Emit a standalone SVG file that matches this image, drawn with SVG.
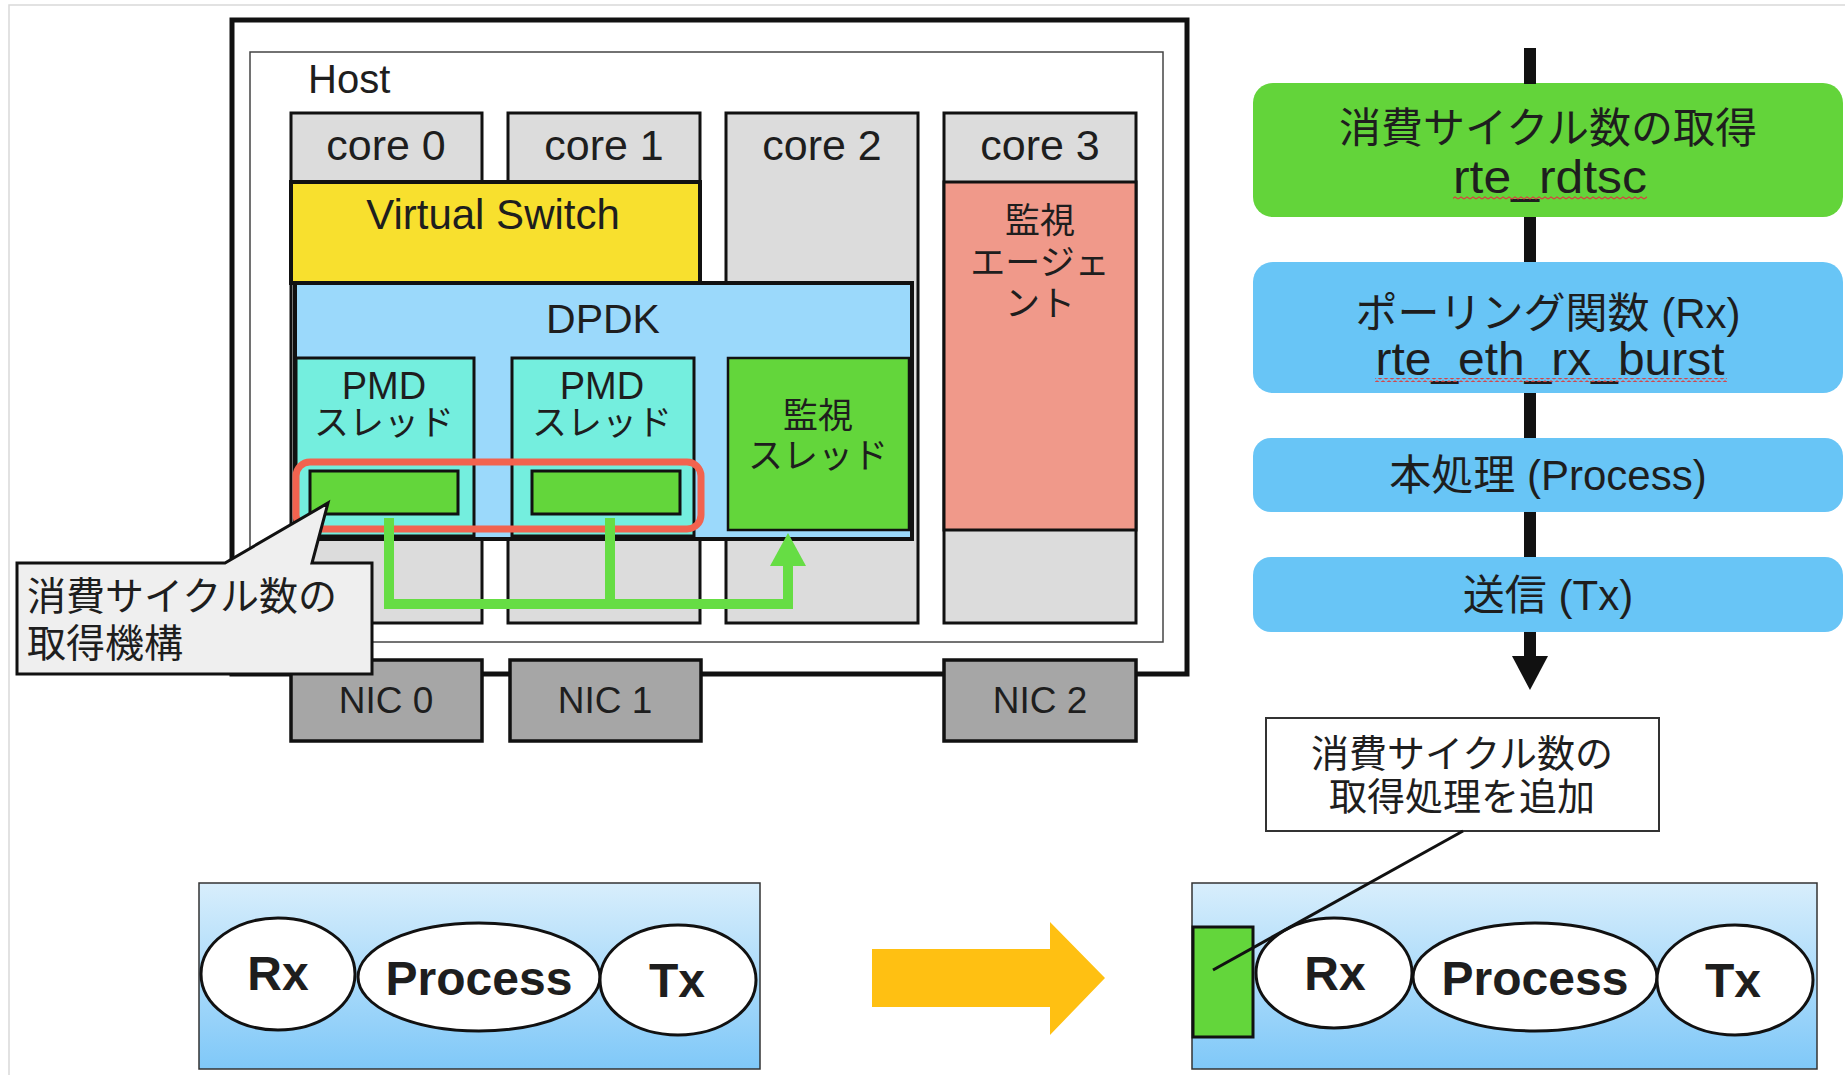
<svg xmlns="http://www.w3.org/2000/svg" width="1845" height="1075" viewBox="0 0 1845 1075">
<defs>
<style>
.t{font-family:"Liberation Sans","Noto Sans CJK JP",sans-serif;fill:#1e1e1e}
.m{text-anchor:middle}
.b{font-weight:bold}
.core{fill:#dcdcdc;stroke:#111;stroke-width:3}
.nic{fill:#a6a6a6;stroke:#111;stroke-width:3.5}
.ell{fill:#fff;stroke:#111;stroke-width:3}
.gbox{fill:#63d63b;stroke:#111}
.flowg{fill:#63d43a}
.flowb{fill:#68c5f6}
.panel{fill:url(#bg);stroke:#333;stroke-width:1.5}
.conn{fill:none;stroke:#111;stroke-width:12}
.green{fill:none;stroke:#66dd44;stroke-width:10}
</style>
<linearGradient id="bg" x1="0" y1="0" x2="0" y2="1">
<stop offset="0" stop-color="#d8eefc"/>
<stop offset="1" stop-color="#7fc8f8"/>
</linearGradient>
<pattern id="wavy" width="6" height="4" patternUnits="userSpaceOnUse">
<path d="M0 3 L3 1 L6 3" fill="none" stroke="#d94040" stroke-width="1.2"/>
</pattern>
<marker id="ahB" markerUnits="userSpaceOnUse" markerWidth="36" markerHeight="36" viewBox="0 0 34 36" refX="0" refY="18" orient="auto">
<path d="M0 0 L34 18 L0 36 Z" fill="#111"/>
</marker>
<marker id="ahG" markerUnits="userSpaceOnUse" markerWidth="36" markerHeight="36" viewBox="0 0 33 36" refX="0" refY="18" orient="auto">
<path d="M0 0 L33 18 L0 36 Z" fill="#66dd44"/>
</marker>
</defs>
<rect x="0" y="0" width="1845" height="1075" fill="#fff"/>
<path d="M9 1075 V5 H1845" fill="none" stroke="#d9d9d9" stroke-width="1.5"/>

<g id="host">
<rect x="232" y="20" width="955" height="654" fill="#fff" stroke="#111" stroke-width="5"/>
<rect x="250" y="52" width="913" height="590" fill="none" stroke="#444" stroke-width="1.5"/>
<text class="t" x="308" y="93" font-size="40">Host</text>
</g>

<g id="core0">
<rect class="core" x="291" y="113" width="191" height="510"/>
<text class="t m" x="386" y="160" font-size="43">core 0</text>
</g>
<g id="core1">
<rect class="core" x="508" y="113" width="192" height="510"/>
<text class="t m" x="604" y="160" font-size="43">core 1</text>
</g>
<g id="core2">
<rect class="core" x="726" y="113" width="192" height="510"/>
<text class="t m" x="822" y="160" font-size="43">core 2</text>
</g>
<g id="core3">
<rect class="core" x="944" y="113" width="192" height="510"/>
<text class="t m" x="1040" y="160" font-size="43">core 3</text>
<rect x="944" y="182" width="192" height="348" fill="#f0998a" stroke="#111" stroke-width="3"/>
<text class="t m" x="1040" y="233" font-size="35">監視</text>
<text class="t m" x="1040" y="275" font-size="35">エージェ</text>
<text class="t m" x="1040" y="316" font-size="35">ント</text>
</g>

<g id="vswitch">
<rect x="291" y="182" width="409" height="101" fill="#f8e02e" stroke="#111" stroke-width="4"/>
<text class="t m" x="493" y="229" font-size="42">Virtual Switch</text>
</g>

<g id="dpdk">
<rect x="295" y="283" width="617" height="256" fill="#9bd9fb" stroke="#111" stroke-width="4"/>
<text class="t m" x="603" y="333" font-size="41">DPDK</text>
</g>

<g id="pmd0">
<rect x="296" y="358" width="178" height="178" fill="#74eede" stroke="#111" stroke-width="3"/>
<text class="t m" x="384" y="399" font-size="38">PMD</text>
<text class="t m" x="384" y="435" font-size="35">スレッド</text>
<rect class="gbox" x="310" y="471" width="148" height="43" stroke-width="3"/>
</g>
<g id="pmd1">
<rect x="512" y="358" width="182" height="178" fill="#74eede" stroke="#111" stroke-width="3"/>
<text class="t m" x="602" y="399" font-size="38">PMD</text>
<text class="t m" x="602" y="435" font-size="35">スレッド</text>
<rect class="gbox" x="532" y="471" width="148" height="43" stroke-width="3"/>
</g>
<g id="monitor-thread">
<rect class="gbox" x="728" y="358" width="181" height="172" stroke-width="2.5"/>
<text class="t m" x="818" y="428" font-size="35">監視</text>
<text class="t m" x="818" y="468" font-size="35">スレッド</text>
</g>
<g id="highlight">
<rect x="296" y="462" width="405" height="67" rx="14" fill="none" stroke="#f2634f" stroke-width="7"/>
</g>

<g id="nic0">
<rect class="nic" x="291" y="660" width="191" height="81"/>
<text class="t m" x="386" y="713" font-size="37">NIC 0</text>
</g>
<g id="nic1">
<rect class="nic" x="510" y="660" width="191" height="81"/>
<text class="t m" x="605" y="713" font-size="37">NIC 1</text>
</g>
<g id="nic2">
<rect class="nic" x="944" y="660" width="192" height="81"/>
<text class="t m" x="1040" y="713" font-size="37">NIC 2</text>
</g>

<g id="callout">
<path d="M17 563 H225 L328 503 L312 563 H372 V674 H17 Z" fill="#efefef" stroke="#111" stroke-width="3" stroke-linejoin="miter"/>
<text class="t" x="27" y="610" font-size="39">消費サイクル数の</text>
<text class="t" x="27" y="657" font-size="39">取得機構</text>
</g>

<g id="flow-cycles">
<rect class="flowg" x="1253" y="83" width="590" height="134" rx="20"/>
<text class="t m" x="1548" y="143" font-size="42">消費サイクル数の取得</text>
<text class="t m" x="1550" y="193" font-size="46" textLength="194" lengthAdjust="spacingAndGlyphs">rte_rdtsc</text>
<rect x="1453" y="196" width="194" height="4" fill="url(#wavy)"/>
</g>
<g id="flow-rx">
<rect class="flowb" x="1253" y="262" width="590" height="131" rx="20"/>
<text class="t m" x="1548" y="328" font-size="42">ポーリング関数 (Rx)</text>
<text class="t m" x="1550" y="375" font-size="46" textLength="349" lengthAdjust="spacingAndGlyphs">rte_eth_rx_burst</text>
<rect x="1375" y="378" width="352" height="4" fill="url(#wavy)"/>
</g>
<g id="flow-process">
<rect class="flowb" x="1253" y="438" width="590" height="74" rx="18"/>
<text class="t m" x="1548" y="490" font-size="42">本処理 (Process)</text>
</g>
<g id="flow-tx">
<rect class="flowb" x="1253" y="557" width="590" height="75" rx="18"/>
<text class="t m" x="1548" y="610" font-size="42">送信 (Tx)</text>
</g>

<g id="note">
<rect x="1266" y="718" width="393" height="113" fill="#fff" stroke="#333" stroke-width="2"/>
<text class="t m" x="1462" y="767" font-size="38">消費サイクル数の</text>
<text class="t m" x="1462" y="810" font-size="38">取得処理を追加</text>
</g>

<g id="before">
<rect class="panel" x="199" y="883" width="561" height="186"/>
<ellipse class="ell" cx="278" cy="974" rx="77" ry="56"/>
<ellipse class="ell" cx="479" cy="977" rx="121" ry="54"/>
<ellipse class="ell" cx="678" cy="980" rx="78" ry="55"/>
<text class="t m b" x="278" y="990" font-size="48">Rx</text>
<text class="t m b" x="479" y="995" font-size="48">Process</text>
<text class="t m b" x="677" y="997" font-size="48">Tx</text>
</g>

<g id="transform-arrow">
<path d="M872 949 H1050 V922 L1105 978 L1050 1035 V1007 H872 Z" fill="#ffc012"/>
</g>

<g id="after">
<rect class="panel" x="1192" y="883" width="625" height="186"/>
<rect class="gbox" x="1193" y="927" width="60" height="110" stroke-width="3"/>
<ellipse class="ell" cx="1334" cy="973" rx="78" ry="55"/>
<ellipse class="ell" cx="1535" cy="977" rx="122" ry="54"/>
<ellipse class="ell" cx="1735" cy="980" rx="78" ry="55"/>
<text class="t m b" x="1335" y="990" font-size="48">Rx</text>
<text class="t m b" x="1535" y="995" font-size="48">Process</text>
<text class="t m b" x="1733" y="997" font-size="48">Tx</text>
</g>

<g id="connectors">
<path class="green" d="M389 518 V604 H788 V566" stroke-linejoin="miter" marker-end="url(#ahG)"/>
<path class="green" d="M610 518 V604"/>
<path class="conn" d="M1530 48 V84"/>
<path class="conn" d="M1530 217 V262"/>
<path class="conn" d="M1530 393 V438"/>
<path class="conn" d="M1530 512 V557"/>
<path class="conn" d="M1530 632 V656" marker-end="url(#ahB)"/>
<path d="M1463 831 L1213 970" fill="none" stroke="#111" stroke-width="3"/>
</g>
</svg>
